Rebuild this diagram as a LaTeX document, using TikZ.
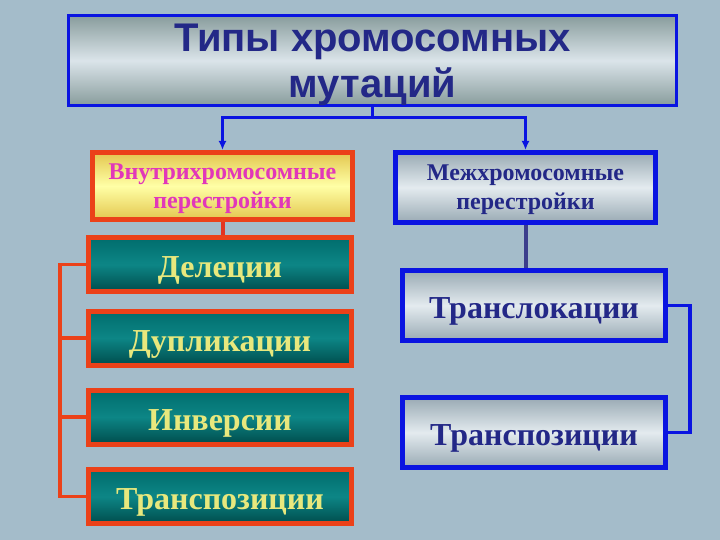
\documentclass[tikz,border=0pt]{standalone}
\usepackage{fontspec}
\setmainfont{Liberation Serif}
\newfontfamily\headfont{Liberation Sans}
\usepackage{xcolor}
\usetikzlibrary{arrows.meta, positioning, calc}
\definecolor{bgblue}{RGB}{164,188,202}
\definecolor{frameblue}{RGB}{10,20,225}
\definecolor{framered}{RGB}{235,65,25}
\definecolor{inkblue}{RGB}{35,40,135}
\definecolor{inkpink}{RGB}{225,55,185}
\definecolor{inkyellow}{RGB}{232,232,125}
\definecolor{slateline}{RGB}{60,62,140}
\tikzset{
  titlebox/.style={
    draw=frameblue, line width=3pt, align=center,
    minimum width=608pt, minimum height=90pt, text depth=0pt,
    top color=gray!10!teal!25!white!70!black, bottom color=gray!10!teal!25!white!70!black,
    middle color=white!60!bgblue,
    font=\headfont\bfseries\fontsize{40}{46}\selectfont, text=inkblue
  },
  groupred/.style={
    draw=framered, line width=5pt, align=center,
    minimum width=260pt, minimum height=67pt, text depth=0pt,
    top color=brown!55!yellow!80!white, bottom color=brown!55!yellow!80!white,
    middle color=yellow!35!white,
    font=\bfseries\fontsize{24}{29}\selectfont, text=inkpink
  },
  groupblue/.style={
    draw=frameblue, line width=5pt, align=center,
    minimum width=260pt, minimum height=70pt, text depth=0pt,
    top color=bgblue!70!gray, bottom color=bgblue!70!gray,
    middle color=white!70!bgblue,
    font=\bfseries\fontsize{24}{29}\selectfont, text=inkblue
  },
  kindred/.style={
    draw=framered, line width=5pt, align=center,
    minimum width=263pt, minimum height=54pt,
    text height=32pt, text depth=6pt,
    top color=teal!85!black, bottom color=teal!60!black,
    middle color=teal!95!white,
    font=\bfseries\fontsize{32}{34}\selectfont, text=inkyellow
  },
  kindblue/.style={
    draw=frameblue, line width=5pt, align=center,
    minimum width=263pt, minimum height=70pt,
    text height=32pt, text depth=6pt,
    top color=bgblue!70!gray, bottom color=bgblue!70!gray,
    middle color=white!70!bgblue,
    font=\bfseries\fontsize{32}{34}\selectfont, text=inkblue
  },
  bluearrow/.style={-{Latex[length=9pt, width=8pt]}, line width=3pt, draw=frameblue},
  redlink/.style={line width=3.5pt, draw=framered},
  bluelink/.style={line width=3.5pt, draw=frameblue},
}
\begin{document}
\begin{tikzpicture}[x=1pt, y=-1pt]
  % background
  \fill[bgblue] (0,0) rectangle (720,540);

  % title
  \node[titlebox] (title) at (372.5,60.5) {Типы хромосомных\\мутаций};

  % groups
  \node[groupred] (intra) at (222.5,186) {Внутрихромосомные\\перестройки};
  \node[groupblue] (inter) at (525.5,187.5) {Межхромосомные\\перестройки};

  % intrachromosomal kinds
  \node[kindred] (del) at (220,264.5) {Делеции};
  \node[kindred] (dup) at (220,338) {Дупликации};
  \node[kindred] (inv) at (220,417) {Инверсии};
  \node[kindred] (trpl) at (220,496.5) {Транспозиции};

  % interchromosomal kinds
  \node[kindblue] (transl) at (534,305.5) {Транслокации};
  \node[kindblue] (trpr) at (534,432.5) {Транспозиции};

  % title to groups
  \draw[line width=3pt, frameblue] (title.south) -- ++(0,11) coordinate (split);
  \draw[bluearrow] (split) -| (intra.north);
  \draw[bluearrow] (split) -| (inter.north);

  % group to kinds
  \draw[line width=4pt, framered!80!purple] (intra.south) -- (intra.south |- del.north);
  \draw[line width=4pt, slateline] (inter.south) -- (inter.south |- transl.north);

  % left bracket
  \coordinate (lbar) at (60,0);
  \draw[redlink] (del.west) -- (del.west -| lbar) -- (trpl.west -| lbar) -- (trpl.west);
  \draw[redlink] (dup.west) -- (dup.west -| lbar);
  \draw[redlink] (inv.west) -- (inv.west -| lbar);

  % right bracket
  \coordinate (rbar) at (690,0);
  \draw[bluelink] (transl.east) -- (transl.east -| rbar) -- (trpr.east -| rbar) -- (trpr.east);
\end{tikzpicture}
\end{document}
